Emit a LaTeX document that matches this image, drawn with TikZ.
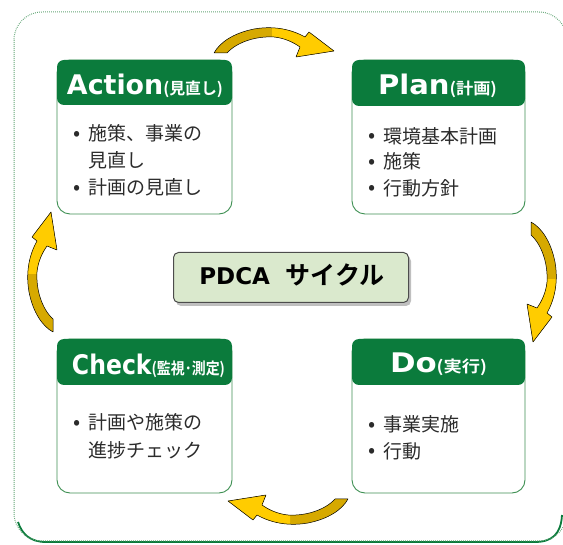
\documentclass[tikz,border=0pt]{standalone}
\usepackage{graphicx}
\usepackage{fontspec}
\setmainfont{DejaVu Sans}
\newfontfamily\jp{Noto Sans CJK JP}[BoldFont={Noto Sans CJK JP Bold}]
\definecolor{hdrgreen}{HTML}{0B7B3C}
\definecolor{frmgreen}{HTML}{3D8F52}
\definecolor{outgreen}{HTML}{62A575}
\definecolor{goldd}{HTML}{D6A900}
\definecolor{yel}{HTML}{FFCC00}
\definecolor{pdcafill}{HTML}{DAE9CD}
\definecolor{bodytext}{HTML}{2B2B2B}
\newcommand\hdrline[3]{\resizebox{#1}{\height}{\fontsize{27}{27}\selectfont\bfseries #2{\jp\bfseries\fontsize{16}{16}\selectfont(#3)}}}
\newcommand\bul{\makebox[14pt][l]{\hspace{-1.5pt}\raisebox{0.5pt}{\fontsize{21}{21}\selectfont •}}}
\tikzset{
  boxframe/.style={draw=frmgreen, line width=0.9pt, rounded corners=13pt, minimum width=175pt, minimum height=154pt, anchor=north west, outer sep=0pt, inner sep=0pt},
  hdrbox/.style={fill=hdrgreen, rounded corners=7pt, minimum width=175pt, minimum height=45pt, anchor=north west, outer sep=0pt, inner sep=0pt},
  hdrtxt/.style={text=white, anchor=base, inner sep=0pt},
  bodyline/.style={anchor=base west, inner sep=0pt, text=bodytext, font=\jp\fontsize{19}{19}\selectfont},
  arrowshape/.style={insert path={(-60,-11) -- (-47,-11)
     .. controls (-36,1) and (-16,6) .. (0,5)
     .. controls (10,4) and (19,0) .. (26,-5)
     -- (22,-15) -- (60,-9) -- (35,10) -- (31,5)
     .. controls (15,14) and (-3,16) .. (-20,13)
     .. controls (-40,9) and (-54,0) .. (-60,-11) -- cycle}},
  pics/cyc/.style={code={
     \fill[goldd, arrowshape];
     \begin{scope}
       \clip (-2,-40) rectangle (80,40);
       \fill[yel, arrowshape];
     \end{scope}
     \draw[black, line width=0.5pt, line join=round, arrowshape];
  }}
}
\begin{document}
\begin{tikzpicture}[x=1pt,y=1pt]
\useasboundingbox (0,0) rectangle (563,-545);
% outer frame
\draw[hdrgreen, line width=1.8pt] (18,-522) .. controls (22,-534) and (30,-542) .. (46,-542) -- (535,-542) .. controls (552,-542) and (561,-534) .. (562,-515);
\draw[outgreen, line width=1pt, dash pattern=on 0.8pt off 1.2pt, rounded corners=28pt] (14,-12) rectangle (567,-541);
% boxes
\node[boxframe] (actbox) at (57,-60) {};
\node[hdrbox] (acthdr) at (57,-60) {};
\node[hdrtxt] (acttxt) at (145,-95) {\hdrline{156pt}{Action}{見直し}};
\node[bodyline] (act1) at (74.3,-141) {\bul 施策、事業の};
\node[bodyline] (act2) at (88.3,-168) {見直し};
\node[bodyline] (act3) at (74.3,-195) {\bul 計画の見直し};

\node[boxframe, minimum width=173pt] (plnbox) at (352,-60) {};
\node[hdrbox, minimum width=173pt, minimum height=46pt] (plnhdr) at (352,-60) {};
\node[hdrtxt] (plntxt) at (437.5,-95) {\hdrline{119pt}{Plan}{計画}};
\node[bodyline] (pln1) at (369.3,-143.5) {\bul 環境基本計画};
\node[bodyline] (pln2) at (369.3,-169) {\bul 施策};
\node[bodyline] (pln3) at (369.3,-195.5) {\bul 行動方針};

\node[boxframe] (chkbox) at (57,-339) {};
\node[hdrbox, minimum height=46pt] (chkhdr) at (57,-339) {};
\node[hdrtxt] (chktxt) at (148.5,-375) {\hdrline{153pt}{Check}{監視･測定}};
\node[bodyline] (chk1) at (74.3,-430) {\bul 計画や施策の};
\node[bodyline] (chk2) at (88.3,-458) {進捗チェック};

\node[boxframe, minimum width=173pt] (dobox) at (352,-339) {};
\node[hdrbox, minimum width=173pt, minimum height=46pt] (dohdr) at (352,-339) {};
\node[hdrtxt] (dotxt) at (438.5,-373) {\hdrline{97pt}{Do}{実行}};
\node[bodyline] (do1) at (369.3,-432) {\bul 事業実施};
\node[bodyline] (do2) at (369.3,-458.5) {\bul 行動};

% center
\fill[black, opacity=0.25, rounded corners=5pt] (176,-256) rectangle (411,-306);
\node[draw=black!70, line width=1pt, fill=pdcafill, rounded corners=5pt, minimum width=235pt, minimum height=50pt, anchor=north west, inner sep=0pt] (pdca) at (173,-252) {};
\node[anchor=base, inner sep=0pt, text=black] (pdcatxt) at (292,-285) {\fontsize{23}{23}\selectfont\bfseries PDCA\hspace{16pt}{\jp\bfseries\fontsize{25}{25}\selectfont サイクル}};

% arrows
\pic (arrtop) at (274,-42) {cyc};
\pic[rotate=-90] (arrright) at (542,-282) {cyc};
\pic[rotate=180] (arrbot) at (288,-510) {cyc};
\pic[rotate=90] (arrleft) at (42,-272) {cyc};
\end{tikzpicture}
\end{document}
